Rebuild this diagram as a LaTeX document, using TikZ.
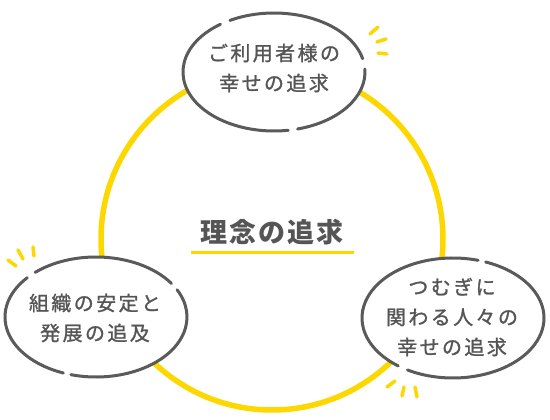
\documentclass[tikz,border=0pt]{standalone}
\usepackage{fontspec}
\newfontfamily\jp{Noto Sans CJK JP}[LetterSpace=12, FakeBold=1.2]
\newfontfamily\jpt{Noto Sans CJK JP}[LetterSpace=8]
\definecolor{ringyel}{HTML}{FCD800}
\definecolor{inkgray}{HTML}{5A5A5A}
\definecolor{txtgray}{HTML}{555555}
\tikzset{
  ring/.style={draw=ringyel, line width=5.5pt},
  ell/.style={draw=inkgray, line width=3pt, line cap=round},
  spark/.style={draw=ringyel, line width=3.5pt, line cap=round},
  lbl/.style={align=center, text=txtgray, font=\fontsize{20}{30}\selectfont\jp, inner sep=0pt},
  ttl/.style={text=txtgray, font=\fontsize{27}{30}\selectfont\jpt\bfseries, inner sep=0pt},
}
\begin{document}
\begin{tikzpicture}[x=1pt,y=1pt]
\fill[white] (0,0) rectangle (550,-420);
\useasboundingbox (0,0) rectangle (550,-420);
% big ring
\coordinate (c) at (272,-239);
\draw[ring] (c) circle[radius=171];
% ellipse centres
\coordinate (e1) at (274,-72);
\coordinate (e2) at (96,-317);
\coordinate (e3) at (453,-318);
\fill[white] (e1) ellipse[x radius=91, y radius=59];
\fill[white] (e2) ellipse[x radius=91, y radius=60];
\fill[white] (e3) ellipse[x radius=91, y radius=60];
% top ellipse
\draw[ell] (e1) ++(13:91 and 59) arc[start angle=13, end angle=119, x radius=91, y radius=59];
\draw[ell] (e1) ++(126:91 and 59) arc[start angle=126, end angle=279, x radius=91, y radius=59];
\draw[ell] (e1) ++(285:91 and 59) arc[start angle=285, end angle=363, x radius=91, y radius=59];
% left ellipse
\draw[ell] (e2) ++(34:91 and 60) arc[start angle=34, end angle=132, x radius=91, y radius=60];
\draw[ell] (e2) ++(139:91 and 60) arc[start angle=139, end angle=249, x radius=91, y radius=60];
\draw[ell] (e2) ++(254:91 and 60) arc[start angle=254, end angle=387, x radius=91, y radius=60];
% right ellipse
\draw[ell] (e3) ++(74:91 and 60) arc[start angle=74, end angle=233, x radius=91, y radius=60];
\draw[ell] (e3) ++(240:91 and 60) arc[start angle=240, end angle=429, x radius=91, y radius=60];
% sparks
\draw[spark] (370,-34) -- (378,-27);
\draw[spark] (377,-42) -- (386,-39);
\draw[spark] (378,-53) -- (387,-54);
\draw[spark] (8,-260) -- (16,-266);
\draw[spark] (18,-250) -- (23,-259);
\draw[spark] (33,-247) -- (34,-256);
\draw[spark] (387,-387) -- (395,-381);
\draw[spark] (402,-396) -- (404,-387);
\draw[spark] (417,-397) -- (415,-387);
% texts
\node[lbl] (top) at (274,-68) {ご利用者様の\\幸せの追求};
\node[lbl] (left) at (95,-318) {組織の安定と\\発展の追及};
\node[lbl] (right) at (452,-317) {つむぎに\\関わる人々の\\幸せの追求};
\node[ttl] (title) at (272,-232) {理念の追求};
\draw[draw=ringyel, line width=3pt] (191,-252) -- (354,-252);
\end{tikzpicture}
\end{document}
